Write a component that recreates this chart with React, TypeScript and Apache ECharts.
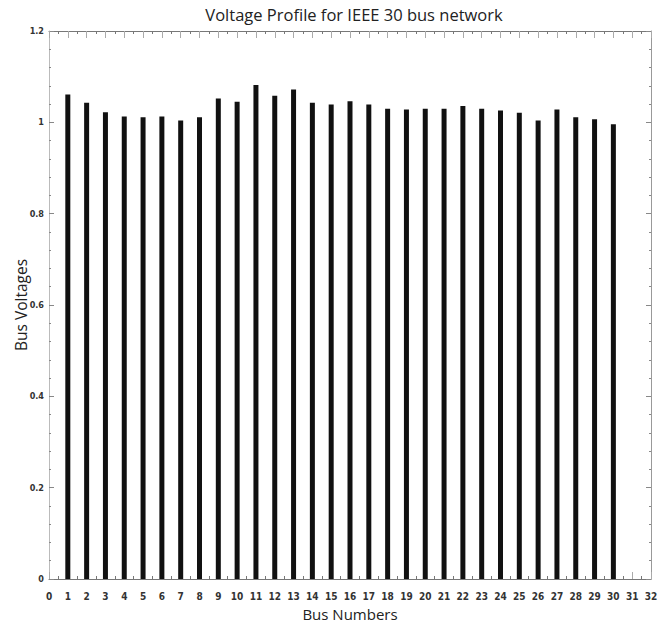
import React, { useEffect, useRef } from "react";
import * as echarts from "echarts";

const busNumbers = [1, 2, 3, 4, 5, 6, 7, 8, 9, 10, 11, 12, 13, 14, 15, 16, 17, 18, 19, 20, 21, 22, 23, 24, 25, 26, 27, 28, 29, 30];
const busVoltages = [
  1.061, 1.043, 1.022, 1.013, 1.011, 1.013, 1.004, 1.011, 1.052, 1.045,
  1.082, 1.058, 1.072, 1.043, 1.039, 1.046, 1.039, 1.030, 1.028, 1.030,
  1.030, 1.036, 1.030, 1.026, 1.021, 1.004, 1.028, 1.011, 1.007, 0.996,
];
const titleText = "Voltage Profile for IEEE 30 bus network";
const xName = "Bus Numbers";
const yName = "Bus Voltages";

const tickFont = "'Liberation Sans Narrow', 'DejaVu Sans Condensed', 'Roboto', sans-serif";
const textFont = "'Open Sans', 'Noto Sans', sans-serif";

export default function App() {
  const ref = useRef<HTMLDivElement>(null);
  useEffect(() => {
    if (!ref.current) return;
    const chart = echarts.init(ref.current, undefined, { renderer: "svg" });
    chart.setOption({
      animation: false,
      backgroundColor: "#ffffff",
      title: {
        text: titleText,
        left: 349,
        top: 1,
        textAlign: "center",
        textStyle: { fontFamily: textFont, fontSize: 16.5, fontWeight: "normal", color: "#222" },
      },
      grid: { left: 49, right: 19, top: 31, bottom: 47, containLabel: false, outerBoundsMode: "none" },
      xAxis: [
        {
          type: "value",
          min: 0,
          max: 32,
          interval: 1,
          name: xName,
          nameLocation: "middle",
          nameGap: 27,
          nameMoveOverlap: false,
          nameTextStyle: { fontFamily: textFont, fontSize: 15, color: "#222" },
          axisLine: { show: true, onZero: false, lineStyle: { color: "#777", width: 1 } },
          axisTick: { show: true, inside: true, length: 7, lineStyle: { color: "#aaa" } },
          minorTick: { show: true, splitNumber: 2, length: 3, lineStyle: { color: "#777" } },
          splitLine: { show: false },
          axisLabel: { fontFamily: tickFont, fontSize: 10, color: "#333", margin: 12, fontWeight: "bold" },
        },
        {
          type: "value",
          position: "top",
          min: 0,
          max: 32,
          interval: 1,
          axisLine: { show: true, onZero: false, lineStyle: { color: "#777", width: 1 } },
          axisTick: { show: true, inside: true, length: 7, lineStyle: { color: "#aaa" } },
          minorTick: { show: true, splitNumber: 2, length: 3, lineStyle: { color: "#777" } },
          splitLine: { show: false },
          axisLabel: { show: false },
        },
      ],
      yAxis: [
        {
          type: "value",
          min: 0,
          max: 1.2,
          interval: 0.2,
          name: yName,
          nameLocation: "middle",
          nameGap: 20,
          nameMoveOverlap: false,
          nameTextStyle: { fontFamily: textFont, fontSize: 15.5, color: "#222" },
          axisLine: { show: true, onZero: false, lineStyle: { color: "#bbb", width: 1 } },
          axisTick: { show: true, inside: true, length: 5, lineStyle: { color: "#888" } },
          minorTick: { show: true, splitNumber: 5, length: 2, lineStyle: { color: "#888" } },
          splitLine: { show: false },
          axisLabel: { fontFamily: tickFont, fontSize: 9, color: "#333", margin: 5, fontWeight: "bold" },
        },
        {
          type: "value",
          position: "right",
          min: 0,
          max: 1.2,
          interval: 0.2,
          axisLine: { show: true, onZero: false, lineStyle: { color: "#999", width: 1 } },
          axisTick: { show: true, inside: true, length: 5, lineStyle: { color: "#888" } },
          minorTick: { show: true, splitNumber: 5, length: 2, lineStyle: { color: "#888" } },
          splitLine: { show: false },
          axisLabel: { show: false },
        },
      ],
      series: [
        {
          type: "bar",
          xAxisIndex: 0,
          yAxisIndex: 0,
          barWidth: 5,
          itemStyle: { color: "#111" },
          data: busNumbers.map((b, i) => [b, busVoltages[i]]),
        },
      ],
    });
    return () => chart.dispose();
  }, []);
  return <div ref={ref} style={{ width: 670, height: 626, position: "absolute", left: 0, top: 0 }} />;
}
